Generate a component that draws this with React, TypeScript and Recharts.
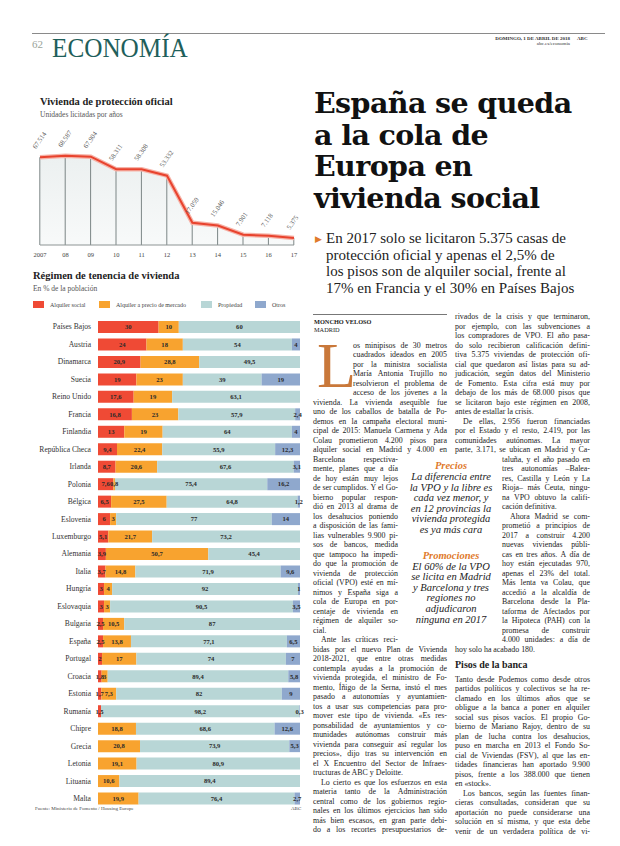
import React from 'react'
import { ComposedChart, BarChart, Area, Bar, Line, XAxis, YAxis, LabelList } from 'recharts'

// Vivienda de protección oficial (unidades licitadas)
const years = ['2007', '08', '09', '10', '11', '12', '13', '14', '15', '16', '17']
const licitadas = [67514, 68587, 67904, 58311, 58308, 53332, 17059, 15046, 7901, 7118, 5375]

// Régimen de tenencia de vivienda (% de la población)
const countries = [
  'Países Bajos', 'Austria', 'Dinamarca', 'Suecia', 'Reino Unido', 'Francia', 'Finlandia',
  'República Checa', 'Irlanda', 'Polonia', 'Bélgica', 'Eslovenia', 'Luxemburgo', 'Alemania',
  'Italia', 'Hungría', 'Eslovaquia', 'Bulgaria', 'España', 'Portugal', 'Croacia', 'Estonia',
  'Rumanía', 'Chipre', 'Grecia', 'Letonia', 'Lituania', 'Malta',
]
const alquilerSocial = [30, 24, 20.9, 19, 17.6, 16.8, 13, 9.4, 8.7, 7.6, 6.5, 6, 5.1, 3.9, 3.7, 3, 3, 2.5, 2.5, 2, 1.8, 1.7, 1.5, 0, 0, 0, 0, 0]
const alquilerMercado = [10, 18, 28.8, 23, 19, 23, 19, 22.4, 20.6, 0.8, 27.5, 3, 21.7, 50.7, 14.8, 4, 3, 10.5, 13.8, 17, 3, 7.3, 0, 18.8, 20.8, 19.1, 10.6, 19.9]
const propiedad = [60, 54, 49.5, 39, 63.1, 57.9, 64, 55.9, 67.6, 75.4, 64.8, 77, 73.2, 45.4, 71.9, 92, 90.5, 87, 77.1, 74, 89.4, 82, 98.2, 68.6, 73.9, 80.9, 89.4, 76.4]
const otros = [0, 4, 0, 19, 0, 2.4, 4, 12.3, 3.1, 16.2, 1.2, 14, 0, 0, 9.6, 1, 3.5, 0, 6.5, 7, 5.8, 9, 0.3, 12.6, 5.3, 0, 0, 2.7]

const seriesKeys = ['social', 'mercado', 'propiedad', 'otros']
const seriesNames = ['Alquiler social', 'Alquiler a precio de mercado', 'Propiedad', 'Otros']
const seriesColors = ['#ef4a35', '#f8a32f', '#b8d6d6', '#8fa8cd']

// texto del artículo, línea a línea ("§" = sangría, "¶" = fin de párrafo)
const dropLines = [
  'os minipisos de 30 metros',
  'cuadrados ideados en 2005',
  'por la ministra socialista',
  'María Antonia Trujillo no',
  'resolvieron el problema de',
  'acceso de los jóvenes a la',
]
const colA = [
  'vivienda. La vivienda asequible fue',
  'uno de los caballos de batalla de Po-',
  'demos en la campaña electoral muni-',
  'cipal de 2015: Manuela Carmena y Ada',
  'Colau prometieron 4.200 pisos para',
  'alquiler social en Madrid y 4.000 en',
  'Barcelona respectiva-',
  'mente, planes que a día',
  'de hoy están muy lejos',
  'de ser cumplidos. Y el Go-',
  'bierno popular respon-',
  'dió en 2013 al drama de',
  'los desahucios poniendo',
  'a disposición de las fami-',
  'lias vulnerables 9.900 pi-',
  'sos de bancos, medida',
  'que tampoco ha impedi-',
  'do que la promoción de',
  'vivienda de protección',
  'oficial (VPO) esté en mí-',
  'nimos y España siga a',
  'cola de Europa en por-',
  'centaje de vivienda en',
  'régimen de alquiler so-',
  'cial.¶',
  '§Ante las críticas reci-',
  'bidas por el nuevo Plan de Vivienda',
  '2018-2021, que entre otras medidas',
  'contempla ayudas a la promoción de',
  'vivienda protegida, el ministro de Fo-',
  'mento, Íñigo de la Serna, instó el mes',
  'pasado a autonomías y ayuntamien-',
  'tos a usar sus competencias para pro-',
  'mover este tipo de vivienda. «Es res-',
  'ponsabilidad de ayuntamientos y co-',
  'munidades autónomas construir más',
  'vivienda para conseguir así regular los',
  'precios», dijo tras su intervención en',
  'el X Encuentro del Sector de Infraes-',
  'tructuras de ABC y Deloitte.¶',
  '§Lo cierto es que los esfuerzos en esta',
  'materia tanto de la Administración',
  'central como de los gobiernos regio-',
  'nales en los últimos ejercicios han sido',
  'más bien escasos, en gran parte debi-',
  'do a los recortes presupuestarios de-',
]
const colB = [
  'rivados de la crisis y que terminaron,',
  'por ejemplo, con las subvenciones a',
  'los compradores de VPO. El año pasa-',
  'do solo recibieron calificación defini-',
  'tiva 5.375 viviendas de protección ofi-',
  'cial que quedaron así listas para su ad-',
  'judicación, según datos del Ministerio',
  'de Fomento. Esta cifra está muy por',
  'debajo de los más de 68.000 pisos que',
  'se licitaron bajo este régimen en 2008,',
  'antes de estallar la crisis.¶',
  '§De ellas, 2.956 fueron financiadas',
  'por el Estado y el resto, 2.419, por las',
  'comunidades autónomas. La mayor',
  'parte, 3.171, se ubican en Madrid y Ca-',
  'taluña, y el año pasado en',
  'tres autonomías –Balea-',
  'res, Castilla y León y La',
  'Rioja– más Ceuta, ningu-',
  'na VPO obtuvo la califi-',
  'cación definitiva.¶',
  '§Ahora Madrid se com-',
  'prometió a principios de',
  '2017 a construir 4.200',
  'nuevas viviendas públi-',
  'cas en tres años. A día de',
  'hoy están ejecutadas 970,',
  'apenas el 23% del total.',
  'Más lenta va Colau, que',
  'accedió a la alcaldía de',
  'Barcelona desde la Pla-',
  'taforma de Afectados por',
  'la Hipoteca (PAH) con la',
  'promesa de construir',
  '4.000 unidades: a día de',
  'hoy solo ha acabado 180.¶',
]
const colB2 = [
  'Tanto desde Podemos como desde otros',
  'partidos políticos y colectivos se ha re-',
  'clamado en los últimos años que se',
  'obligue a la banca a poner en alquiler',
  'social sus pisos vacíos. El propio Go-',
  'bierno de Mariano Rajoy, dentro de su',
  'plan de lucha contra los desahucios,',
  'puso en marcha en 2013 el Fondo So-',
  'cial de Viviendas (FSV), al que las en-',
  'tidades financieras han aportado 9.900',
  'pisos, frente a los 388.000 que tienen',
  'en «stock».¶',
  '§Los bancos, según las fuentes finan-',
  'cieras consultadas, consideran que su',
  'aportación no puede considerarse una',
  'solución en sí misma, y que esta debe',
  'venir de un verdadera política de vi-',
]
const quote1 = ['La diferencia entre', 'la VPO y la libre es', 'cada vez menor, y', 'en 12 provincias la', 'vivienda protegida', 'es ya más cara']
const quote2 = ['El 60% de la VPO', 'se licita en Madrid', 'y Barcelona y tres', 'regiones no', 'adjudicaron', 'ninguna en 2017']
const headline = ['España se queda', 'a la cola de', 'Europa en', 'vivienda social']
const subhead = [
  'En 2017 solo se licitaron 5.375 casas de',
  'protección oficial y apenas el 2,5% de',
  'los pisos son de alquiler social, frente al',
  '17% en Francia y el 30% en Países Bajos',
]

const SERIF = '"Liberation Serif", "Times New Roman", serif'
const SLAB = '"DejaVu Serif", serif'
const LH = 9.5
const A0 = 340.5
const B0 = A0 - 3 * LH

const lineData = years.map((y, i) => ({ i, v: licitadas[i] }))
const barData = countries.map((pais, i) => ({
  pais,
  social: alquilerSocial[i],
  mercado: alquilerMercado[i],
  propiedad: propiedad[i],
  otros: otros[i],
}))

const miles = (v: number) => String(v).replace(/\B(?=(\d{3})+(?!\d))/g, '.')
const coma = (v: number) => String(v).replace('.', ',')

function TextLine({ text, x, y, w }: { text: string; x: number; y: number; w: number }) {
  const indent = text.startsWith('§')
  const last = text.endsWith('¶')
  const t = text.replace('§', '').replace('¶', '')
  const base: React.CSSProperties = {
    position: 'absolute', left: x, top: y, width: w, height: LH, lineHeight: `${LH}px`,
    fontSize: 7.9, fontFamily: SERIF, color: '#222', whiteSpace: 'nowrap',
    paddingLeft: indent ? 8 : 0, boxSizing: 'border-box',
  }
  if (last) return <div style={base}>{t}</div>
  return (
    <div style={{ ...base, display: 'flex', justifyContent: 'space-between' }}>
      {t.split(' ').map((wd, k) => <span key={k}>{wd}</span>)}
    </div>
  )
}

const yearLabel = (props: any) => {
  const x = Number(props.x) - 4
  const y = Number(props.y) - 8
  return (
    <text x={x} y={y} transform={`rotate(-55 ${x} ${y})`} fontSize={6.8} fill="#555" fontFamily={SERIF}>
      {miles(Number(props.value))}
    </text>
  )
}

const segLabel = (props: any) => {
  const v = Number(props.value)
  if (!v) return null
  const x = Number(props.x) + Number(props.width) / 2
  const y = Number(props.y) + Number(props.height) / 2 + 2.3
  return (
    <text x={x} y={y} textAnchor="middle" fontSize={6.6} fontWeight="bold" fill="#2a2a2a" fontFamily={SERIF}>
      {coma(v)}
    </text>
  )
}

const countryTick = (props: any) => (
  <text x={props.x} y={props.y} dy={2.7} textAnchor="end" fontSize={7.6} fill="#333" fontFamily={SERIF}>
    {props.payload.value}
  </text>
)

export default function App() {
  return (
    <div style={{ position: 'absolute', left: 0, top: 0, width: 620, height: 846, background: '#fff', overflow: 'hidden', fontFamily: SERIF }}>
      {/* cabecera */}
      <div style={{ position: 'absolute', left: 32, top: 33, width: 573, height: 1, background: '#8a8a8a' }} />
      <div style={{ position: 'absolute', left: 32, top: 38, fontSize: 11, color: '#9aa39a' }}>62</div>
      <div style={{ position: 'absolute', left: 52, top: 32, fontSize: 28, color: '#1f5f5b', transform: 'scaleX(0.9)', transformOrigin: 'left top' }}>ECONOMÍA</div>
      <div style={{ position: 'absolute', left: 470, top: 36, width: 100, textAlign: 'right', fontSize: 5, fontWeight: 'bold', color: '#333' }}>
        DOMINGO, 1 DE ABRIL DE 2018
        <div style={{ fontWeight: 'normal' }}>abc.es/economia</div>
      </div>
      <div style={{ position: 'absolute', left: 577, top: 36, fontSize: 5, fontWeight: 'bold', color: '#333' }}>ABC</div>

      {/* gráfico de líneas */}
      <div style={{ position: 'absolute', left: 40, top: 96, fontSize: 10.5, fontWeight: 'bold', color: '#222' }}>Vivienda de protección oficial</div>
      <div style={{ position: 'absolute', left: 40, top: 110, fontSize: 7.5, color: '#555' }}>Unidades licitadas por años</div>
      <div style={{ position: 'absolute', left: 0, top: 120 }}>
        <ComposedChart width={310} height={145} data={lineData} margin={{ top: 34, right: 16, bottom: 0, left: 40 }}>
          <defs>
            <linearGradient id="area" x1="0" y1="0" x2="0" y2="1">
              <stop offset="0%" stopColor="#dfe6e6" />
              <stop offset="100%" stopColor="#f3f6f6" />
            </linearGradient>
          </defs>
          <XAxis
            type="number"
            dataKey="i"
            domain={[0, 10]}
            ticks={years.map((y, i) => i)}
            tickFormatter={(i: number) => years[i]}
            axisLine={{ stroke: '#8d9494' }}
            tickLine={false}
            tickMargin={1}
            height={20}
            tick={{ fontSize: 6.5, fill: '#444', fontFamily: SERIF }}
          />
          <YAxis hide domain={[0, 70000]} />
          <Area dataKey="v" fill="url(#area)" stroke="none" isAnimationActive={false} />
          <Bar dataKey="v" barSize={1} fill="#7c8686" isAnimationActive={false} />
          <Line dataKey="v" stroke="#f6b3a8" strokeWidth={4.5} dot={false} isAnimationActive={false} />
          <Line dataKey="v" stroke="#e8432e" strokeWidth={2} dot={false} isAnimationActive={false}>
            <LabelList dataKey="v" content={yearLabel} />
          </Line>
        </ComposedChart>
      </div>

      {/* gráfico de barras */}
      <div style={{ position: 'absolute', left: 33, top: 270, fontSize: 10.5, fontWeight: 'bold', color: '#222' }}>Régimen de tenencia de vivienda</div>
      <div style={{ position: 'absolute', left: 33, top: 284, fontSize: 7.5, color: '#555' }}>En % de la población</div>
      {seriesNames.map((n, k) => (
        <div key={n} style={{ position: 'absolute', left: [33, 99, 201, 255][k], top: 301, display: 'flex', alignItems: 'center', fontSize: 6, color: '#444' }}>
          <span style={{ display: 'inline-block', width: 11, height: 7, background: seriesColors[k], marginRight: 6 }} />
          {n}
        </div>
      ))}
      <div style={{ position: 'absolute', left: 0, top: 318 }}>
        <BarChart width={310} height={489} data={barData} layout="vertical" stackOffset="expand" margin={{ top: 0, right: 10, bottom: 0, left: 0 }}>
          <XAxis type="number" hide domain={[0, 1]} />
          <YAxis
            type="category"
            dataKey="pais"
            width={98}
            tickLine={false}
            axisLine={false}
            tickSize={0}
            tickMargin={7}
            interval={0}
            tick={countryTick}
          />
          {seriesKeys.map((k, i) => (
            <Bar key={k} dataKey={k} stackId="a" fill={seriesColors[i]} barSize={12} isAnimationActive={false}>
              <LabelList dataKey={k} content={segLabel} />
            </Bar>
          ))}
        </BarChart>
      </div>
      <div style={{ position: 'absolute', left: 35, top: 806, fontSize: 5, color: '#444' }}>Fuente: Ministerio de Fomento / Housing Europe</div>
      <div style={{ position: 'absolute', left: 291, top: 806, fontSize: 5, color: '#444' }}>ABC</div>

      {/* titular */}
      <div style={{ position: 'absolute', left: 314, top: 88, fontFamily: SLAB, fontWeight: 'bold', fontSize: 28.5, lineHeight: '31.7px', color: '#111', letterSpacing: -0.6 }}>
        {headline.map((l) => <div key={l}>{l}</div>)}
      </div>
      <div style={{ position: 'absolute', left: 315, top: 234, fontSize: 9, color: '#e07a2c' }}>▶</div>
      <div style={{ position: 'absolute', left: 326, top: 230, fontSize: 15, lineHeight: '16.7px', color: '#222' }}>
        {subhead.map((l) => <div key={l}>{l}</div>)}
      </div>

      {/* artículo */}
      <div style={{ position: 'absolute', left: 313, top: 314, width: 134, height: 1, background: '#777' }} />
      <div style={{ position: 'absolute', left: 314, top: 318, fontSize: 6.3, fontWeight: 'bold', color: '#222', lineHeight: '7.5px' }}>
        MONCHO VELOSO<div style={{ fontWeight: 'normal' }}>MADRID</div>
      </div>
      <div style={{ position: 'absolute', left: 317, top: 343, fontSize: 64, lineHeight: '46px', height: 46, color: '#c9783a' }}>L</div>
      {dropLines.map((t, i) => <TextLine key={'d' + i} text={t} x={353} y={A0 + i * LH} w={94} />)}
      {colA.map((t, i) => {
        const n = i + dropLines.length
        const narrow = n >= 12 && n < 32
        return <TextLine key={'a' + i} text={t} x={313} y={A0 + n * LH} w={narrow ? 85 : 134} />
      })}
      {colB.map((t, j) => {
        const narrow = j >= 15 && j < 35
        return <TextLine key={'b' + j} text={t} x={narrow ? 502 : 455} y={B0 + j * LH} w={narrow ? 88 : 135} />
      })}
      <div style={{ position: 'absolute', left: 455, top: B0 + 36.5 * LH, fontSize: 10, fontWeight: 'bold', color: '#222' }}>Pisos de la banca</div>
      {colB2.map((t, j) => <TextLine key={'c' + j} text={t} x={455} y={B0 + (38.2 + j) * LH} w={135} />)}

      {/* destacados */}
      <div style={{ position: 'absolute', left: 400, top: 460, width: 102, textAlign: 'center', fontStyle: 'italic', color: '#222' }}>
        <div style={{ fontSize: 10.5, fontWeight: 'bold', color: '#e07a2c', lineHeight: '12px' }}>Precios</div>
        {quote1.map((l) => <div key={l} style={{ fontSize: 10.5, lineHeight: '10.6px' }}>{l}</div>)}
        <div style={{ fontSize: 10.5, fontWeight: 'bold', color: '#e07a2c', lineHeight: '12px', marginTop: 14 }}>Promociones</div>
        {quote2.map((l) => <div key={l} style={{ fontSize: 10.5, lineHeight: '10.6px' }}>{l}</div>)}
      </div>
    </div>
  )
}
